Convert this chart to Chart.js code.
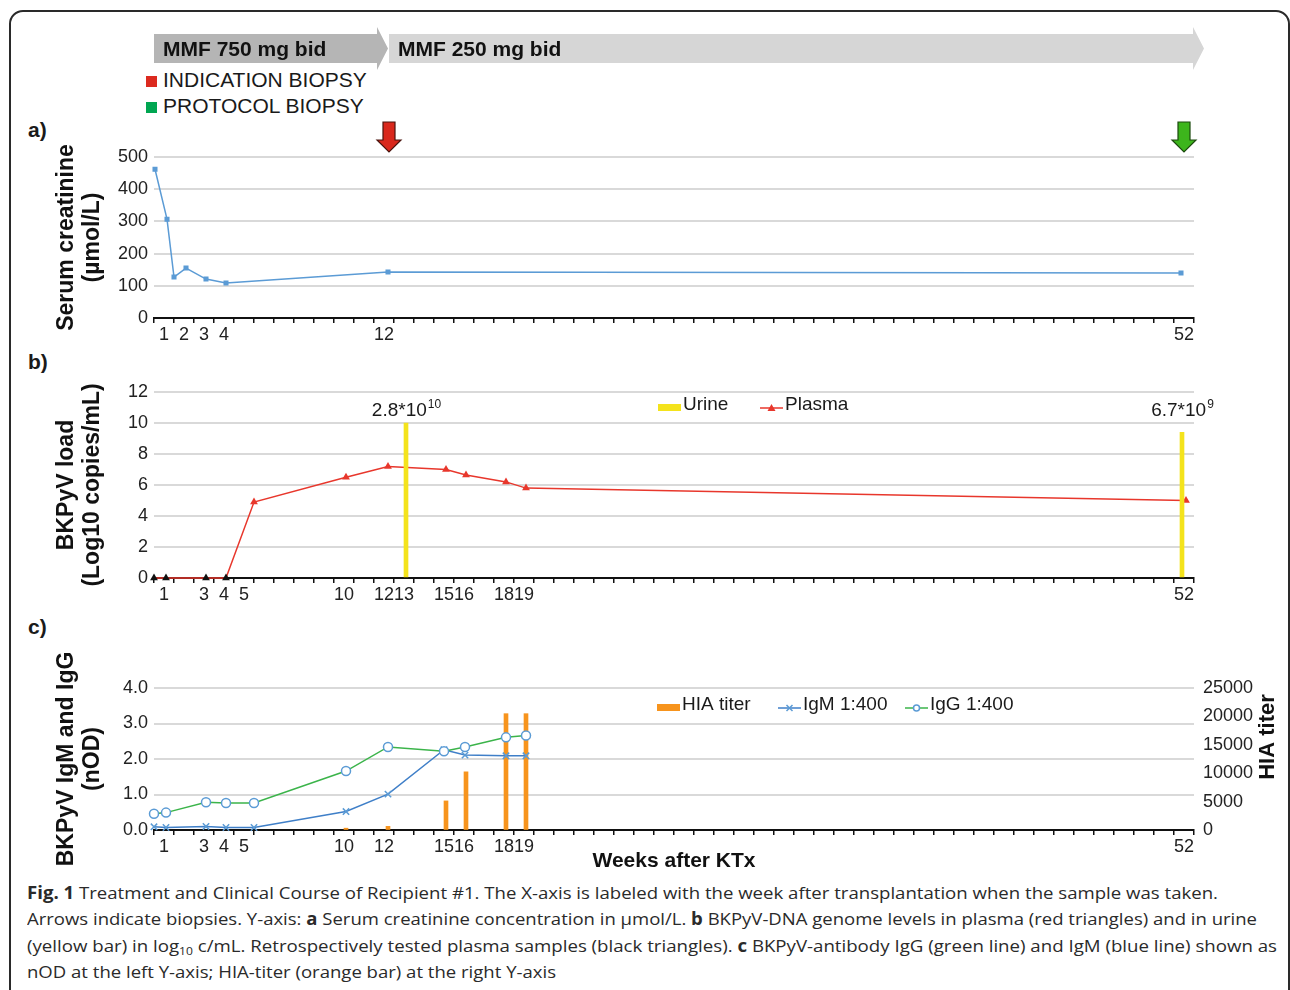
<!DOCTYPE html>
<html>
<head>
<meta charset="utf-8">
<script src="https://cdn.jsdelivr.net/npm/chart.js@4.4.0/dist/chart.umd.min.js"></script>
<style>
  html, body { margin: 0; padding: 0; background: #fff; }
  body { width: 1290px; height: 990px; position: relative; overflow: hidden;
         font-family: "Liberation Sans", Arial, sans-serif; color: #1a1a1a; }
  .frame { position: absolute; left: 9px; top: 10px; width: 1281px; height: 1000px;
           border: 2px solid #2a2a2a; border-radius: 14px; box-sizing: border-box; }
  canvas { position: absolute; left: 0; }
  .tag { position: absolute; left: 28px; font-weight: bold; font-size: 21px; line-height: 24px; }
  .sq { position: absolute; left: 146px; width: 11px; height: 11px; }
  .biopsy { position: absolute; left: 163px; font-size: 21px; line-height: 24px; }
  .caption { position: absolute; left: 27px; top: 880px; font-family: "Open Sans", sans-serif;
             font-size: 17px; line-height: 26.3px; white-space: nowrap; color: #2a2a2a; }
  .caption div { transform-origin: 0 0; width: max-content; }
  .caption sub { font-size: 11px; line-height: 0; vertical-align: -3px; }
</style>
</head>
<body>
<div class="frame"></div>

<div class="sq" style="top:76px;background:#dc2a1f"></div>
<div class="biopsy" style="top:68px">INDICATION BIOPSY</div>
<div class="sq" style="top:102px;background:#00a651"></div>
<div class="biopsy" style="top:94px">PROTOCOL BIOPSY</div>

<div class="tag" style="top:118px">a)</div>
<div class="tag" style="top:350px">b)</div>
<div class="tag" style="top:615px">c)</div>

<canvas id="chartA" width="1290" height="350" style="top:0"></canvas>
<canvas id="chartB" width="1290" height="260" style="top:350px"></canvas>
<canvas id="chartC" width="1290" height="264" style="top:610px"></canvas>

<div class="caption" id="caption">
  <div><b>Fig. 1</b> Treatment and Clinical Course of Recipient #1. The X-axis is labeled with the week after transplantation when the sample was taken.</div>
  <div>Arrows indicate biopsies. Y-axis: <b>a</b> Serum creatinine concentration in µmol/L. <b>b</b> BKPyV-DNA genome levels in plasma (red triangles) and in urine</div>
  <div>(yellow bar) in log<sub>10</sub> c/mL. Retrospectively tested plasma samples (black triangles). <b>c</b> BKPyV-antibody IgG (green line) and IgM (blue line) shown as</div>
  <div>nOD at the left Y-axis; HIA-titer (orange bar) at the right Y-axis</div>
</div>

<script>
// x axis: weeks after KTx, one tick mark per week
var weekTicks = [];
for (var w = 1; w <= 52; w++) weekTicks.push(w);
var labelsA = [1, 2, 3, 4, 12, 52];
var labelsB = [1, 3, 4, 5, 10, 12, 13, 15, 16, 18, 19, 52];
var labelsC = [1, 3, 4, 5, 10, 12, 15, 16, 18, 19, 52];

// treatment + biopsies
var mmfLabels = ['MMF 750 mg bid', 'MMF 250 mg bid'];
var mmfFrom = [0.5, 12.25];
var mmfTo = [12.2, 53];
var biopsyWeeks = [12.25, 52];

// a) serum creatinine
var creatWeeks = [0.55, 1.15, 1.5, 2.1, 3.1, 4.1, 12.2, 51.85];
var creatinine = [462, 307, 127, 155, 121, 109, 143, 140];

// b) BKPyV load
var plasmaWeeks = [0.5, 1.1, 3.1, 4.1, 5.5, 10.1, 12.2, 15.1, 16.1, 18.1, 19.1, 52.1];
var plasmaLoad = [0, 0, 0, 0, 4.9, 6.5, 7.2, 7.0, 6.65, 6.2, 5.8, 5.0];
var retrospective = [true, true, true, true, false, false, false, false, false, false, false, false];
var urineWeeks = [13.1, 51.9];
var urineLoad = [10, 9.4];
var urineBase = ['2.8*10', '6.7*10'];
var urineExp = ['10', '9'];

// c) antibodies
var abWeeks = [0.5, 1.1, 3.1, 4.1, 5.5, 10.1, 12.2, 15.0, 16.05, 18.1, 19.1];
var igm = [0.09, 0.07, 0.1, 0.07, 0.07, 0.52, 1.01, 2.26, 2.11, 2.09, 2.09];
var igg = [0.46, 0.49, 0.78, 0.76, 0.76, 1.66, 2.34, 2.22, 2.34, 2.61, 2.66];
var hiaWeeks = [10.1, 12.2, 15.1, 16.1, 18.1, 19.1];
var hiaTiter = [320, 640, 5120, 10240, 20480, 20480];

var FONT = '"Liberation Sans", Arial, sans-serif';
Chart.defaults.font.family = FONT;
Chart.defaults.font.size = 18;
Chart.defaults.color = '#222';
Chart.defaults.animation = false;

function pts(xs, ys) {
  return xs.map(function (x, i) { return { x: x, y: ys[i] }; });
}

function weekAxis(shown, height, title) {
  return {
    type: 'linear', min: 0.5, max: 52.5, offset: false,
    afterBuildTicks: function (scale) {
      scale.ticks = weekTicks.map(function (v) { return { value: v }; });
    },
    afterFit: function (scale) { scale.height = height; },
    ticks: {
      autoSkip: false, maxRotation: 0, minRotation: 0, padding: 1,
      callback: function (v) { return shown.indexOf(v) >= 0 ? String(v) : ''; }
    },
    grid: { offset: true, drawOnChartArea: false, tickLength: 5, color: '#111', lineWidth: 1.5 },
    border: { color: '#111', width: 2 },
    title: title ? { display: true, text: title, color: '#111', padding: 0,
                     font: { size: 21, weight: 'bold' } } : { display: false }
  };
}

function leftAxis(max, step, title, digits) {
  return {
    min: 0, max: max,
    afterFit: function (scale) { scale.width = 100; },
    ticks: { stepSize: step, padding: 6,
             callback: function (v) { return digits ? v.toFixed(digits) : String(v); } },
    grid: { color: '#d9d9d9', lineWidth: 2, drawTicks: false },
    border: { display: false },
    title: { display: true, text: title, color: '#111', padding: 0,
             font: { size: 23, weight: 'bold', lineHeight: 1.13 } }
  };
}

function marker(ctx, style, x, y, color, fill) {
  ctx.strokeStyle = color;
  ctx.fillStyle = fill || color;
  ctx.lineWidth = 1.5;
  ctx.beginPath();
  if (style === 'triangle') {
    ctx.moveTo(x, y - 4); ctx.lineTo(x + 4, y + 3); ctx.lineTo(x - 4, y + 3); ctx.closePath();
    ctx.fill();
  } else if (style === 'crossRot') {
    ctx.moveTo(x - 3, y - 3); ctx.lineTo(x + 3, y + 3);
    ctx.moveTo(x + 3, y - 3); ctx.lineTo(x - 3, y + 3);
    ctx.stroke();
  } else {
    ctx.arc(x, y, 3, 0, Math.PI * 2);
    ctx.fill(); ctx.stroke();
  }
}

// legend items get an explicit left edge each
function drawLegend(ctx, items, y) {
  ctx.save();
  ctx.font = '19px ' + FONT;
  ctx.textBaseline = 'middle';
  ctx.textAlign = 'left';
  items.forEach(function (it) {
    if (it.bar) {
      ctx.fillStyle = it.color;
      ctx.fillRect(it.x, y - 1, 23, 7);
    } else {
      ctx.strokeStyle = it.color; ctx.lineWidth = 1.5;
      ctx.beginPath(); ctx.moveTo(it.x, y + 3); ctx.lineTo(it.x + 23, y + 3); ctx.stroke();
      marker(ctx, it.style, it.x + 11.5, y + 3, it.pointColor, it.fill);
    }
    ctx.fillStyle = '#1a1a1a';
    ctx.fillText(it.label, it.x + 25, y);
  });
  ctx.restore();
}

var panelAExtras = {
  id: 'panelAExtras',
  afterDraw: function (chart) {
    var ctx = chart.ctx, xs = chart.scales.x;
    var shades = ['#b5b5b5', '#d6d6d6'];
    ctx.save();
    mmfLabels.forEach(function (txt, i) {
      var x0 = xs.getPixelForValue(mmfFrom[i]), x1 = xs.getPixelForValue(mmfTo[i]);
      ctx.fillStyle = shades[i];
      ctx.beginPath();
      ctx.moveTo(x0, 34); ctx.lineTo(x1 - 11, 34); ctx.lineTo(x1 - 11, 27);
      ctx.lineTo(x1, 48.5); ctx.lineTo(x1 - 11, 70); ctx.lineTo(x1 - 11, 63);
      ctx.lineTo(x0, 63); ctx.closePath(); ctx.fill();
      ctx.fillStyle = '#111';
      ctx.font = 'bold 21px ' + FONT;
      ctx.textBaseline = 'middle';
      ctx.fillText(txt, x0 + 9, 50);
    });
    var fills = ['#d9281c', '#3db51c'], edges = ['#4a140e', '#1c4a0e'];
    biopsyWeeks.forEach(function (wk, i) {
      var x = xs.getPixelForValue(wk);
      ctx.fillStyle = fills[i]; ctx.strokeStyle = edges[i]; ctx.lineWidth = 1.2;
      ctx.beginPath();
      ctx.moveTo(x - 6, 122); ctx.lineTo(x + 6, 122); ctx.lineTo(x + 6, 140);
      ctx.lineTo(x + 12, 140); ctx.lineTo(x, 152); ctx.lineTo(x - 12, 140);
      ctx.lineTo(x - 6, 140); ctx.closePath();
      ctx.fill(); ctx.stroke();
    });
    ctx.restore();
  }
};

var panelBExtras = {
  id: 'panelBExtras',
  afterDraw: function (chart) {
    var ctx = chart.ctx, xs = chart.scales.x, ys = chart.scales.y;
    ctx.save();
    ctx.fillStyle = '#1a1a1a';
    ctx.textBaseline = 'middle';
    ctx.textAlign = 'left';
    urineWeeks.forEach(function (wk, i) {
      var x = xs.getPixelForValue(wk), y = ys.getPixelForValue(10.8);
      ctx.font = '19px ' + FONT;
      var bw = ctx.measureText(urineBase[i]).width;
      ctx.font = '12px ' + FONT;
      var ew = ctx.measureText(urineExp[i]).width;
      var left = x - (bw + ew) / 2;
      ctx.font = '19px ' + FONT;
      ctx.fillText(urineBase[i], left, y);
      ctx.font = '12px ' + FONT;
      ctx.fillText(urineExp[i], left + bw + 1, y - 6);
    });
    ctx.restore();
    drawLegend(ctx, [
      { bar: true, color: '#f4e31c', label: 'Urine', x: 658 },
      { color: '#e8372c', pointColor: '#e8372c', style: 'triangle', label: 'Plasma', x: 760 }
    ], 55);
  }
};

var panelCExtras = {
  id: 'panelCExtras',
  afterDraw: function (chart) {
    var ctx = chart.ctx;
    drawLegend(ctx, [
      { bar: true, color: '#f7941d', label: 'HIA titer', x: 657 },
      { color: '#3f7fc8', pointColor: '#5b9bd5', style: 'crossRot', label: 'IgM 1:400', x: 778 },
      { color: '#3bb44a', pointColor: '#5b9bd5', fill: '#fff', style: 'circle', label: 'IgG 1:400', x: 905 }
    ], 95);
    ctx.save();
    ctx.translate(1268, 127);
    ctx.rotate(-Math.PI / 2);
    ctx.font = 'bold 22px ' + FONT;
    ctx.fillStyle = '#111';
    ctx.textAlign = 'center';
    ctx.textBaseline = 'middle';
    ctx.fillText('HIA titer', 0, 0);
    ctx.restore();
  }
};

new Chart(document.getElementById('chartA'), {
  type: 'line',
  data: {
    datasets: [{
      label: 'Serum creatinine',
      data: pts(creatWeeks, creatinine),
      borderColor: '#5b9bd5', backgroundColor: '#5b9bd5',
      borderWidth: 1.5, pointStyle: 'rect', pointRadius: 2.5, clip: false
    }]
  },
  options: {
    responsive: false, devicePixelRatio: 1,
    layout: { padding: { left: 54, right: 96, top: 157, bottom: 0 } },
    plugins: { legend: { display: false }, tooltip: { enabled: false } },
    scales: {
      x: weekAxis(labelsA, 32),
      y: leftAxis(500, 100, ['Serum creatinine', '(µmol/L)'])
    }
  },
  plugins: [panelAExtras]
});

new Chart(document.getElementById('chartB'), {
  type: 'line',
  data: {
    datasets: [{
      type: 'bar', label: 'Urine', order: 0,
      data: pts(urineWeeks, urineLoad),
      backgroundColor: '#f4e31c', barThickness: 4
    }, {
      label: 'Plasma', order: 1,
      data: pts(plasmaWeeks, plasmaLoad),
      borderColor: '#e8372c', borderWidth: 1.5,
      pointStyle: 'triangle', pointRadius: 4.5, pointBorderWidth: 0,
      pointBackgroundColor: retrospective.map(function (r) { return r ? '#111' : '#e8372c'; }),
      clip: false
    }]
  },
  options: {
    responsive: false, devicePixelRatio: 1,
    layout: { padding: { left: 54, right: 96, top: 42, bottom: 0 } },
    plugins: { legend: { display: false }, tooltip: { enabled: false } },
    scales: {
      x: weekAxis(labelsB, 32),
      y: leftAxis(12, 2, ['BKPyV load', '(Log10 copies/mL)'])
    }
  },
  plugins: [panelBExtras]
});

new Chart(document.getElementById('chartC'), {
  type: 'line',
  data: {
    datasets: [{
      type: 'bar', label: 'HIA titer', order: 2, yAxisID: 'y1',
      data: pts(hiaWeeks, hiaTiter),
      backgroundColor: '#f7941d', barThickness: 4
    }, {
      label: 'IgM 1:400', order: 1,
      data: pts(abWeeks, igm),
      borderColor: '#3f7fc8', borderWidth: 1.5,
      pointStyle: 'crossRot', pointRadius: 4.5, pointBorderWidth: 1.5,
      pointBorderColor: '#5b9bd5', clip: false
    }, {
      label: 'IgG 1:400', order: 0,
      data: pts(abWeeks, igg),
      borderColor: '#3bb44a', borderWidth: 1.5,
      pointStyle: 'circle', pointRadius: 4.5, pointBorderWidth: 1.5,
      pointBorderColor: '#5b9bd5', pointBackgroundColor: '#fff', clip: false
    }]
  },
  options: {
    responsive: false, devicePixelRatio: 1,
    layout: { padding: { left: 54, right: 0, top: 78, bottom: 0 } },
    plugins: { legend: { display: false }, tooltip: { enabled: false } },
    scales: {
      x: weekAxis(labelsC, 44, 'Weeks after KTx'),
      y: leftAxis(4, 1, ['BKPyV IgM and IgG', '(nOD)'], 1),
      y1: {
        position: 'right', min: 0, max: 25000,
        afterFit: function (scale) { scale.width = 96; },
        ticks: { stepSize: 5000, padding: 9, callback: function (v) { return String(v); } },
        grid: { drawOnChartArea: false, drawTicks: false },
        border: { display: false }
      }
    }
  },
  plugins: [panelCExtras]
});

// squeeze each caption line to the width of the printed one
var capWidths = [1191, 1230, 1250, 529];
var capLines = document.getElementById('caption').children;
for (var i = 0; i < capLines.length; i++) {
  var lw = capLines[i].getBoundingClientRect().width;
  capLines[i].style.transform = 'scaleX(' + (capWidths[i] / lw) + ')';
}
</script>
</body>
</html>
